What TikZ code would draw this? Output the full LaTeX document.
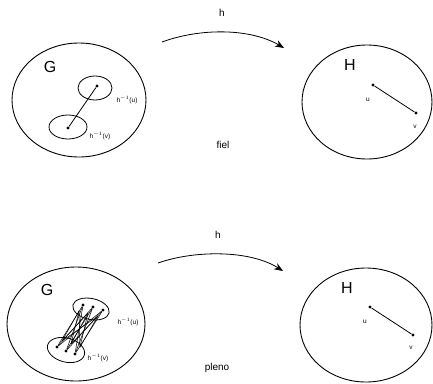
\documentclass[tikz,border=0pt]{standalone}
\usepackage{fontspec}
\setmainfont{Liberation Sans}
\usetikzlibrary{shapes.geometric,arrows.meta}
\begin{document}
\begin{tikzpicture}[x=1pt,y=-1pt,
  big/.style={draw,line width=0.9pt,ellipse,inner sep=0pt},
  small/.style={draw,line width=0.8pt,ellipse,inner sep=0pt},
  pt/.style={circle,fill=black,inner sep=0pt,minimum size=3.4pt},
  edge/.style={line width=0.8pt},
  bund/.style={line width=0.5pt},
  maparrow/.style={line width=0.8pt,-{Stealth[length=9pt,width=7pt]}},
  biglab/.style={font=\fontsize{16}{16}\selectfont},
  lab/.style={font=\fontsize{10}{10}\selectfont},
  tiny/.style={font=\fontsize{6.5}{6.5}\selectfont}]
\useasboundingbox (0,0) rectangle (433,383);

% ---------- top: fiel ----------
\node[big,minimum width=134pt,minimum height=114pt] (G1) at (79,100) {};
\node[biglab] (G1l) at (50,67) {G};
\node[small,minimum width=34pt,minimum height=24pt] (Su1) at (95,88) {};
\node[small,minimum width=38pt,minimum height=24pt] (Sv1) at (68,127) {};
\node[pt] (gu1) at (97,86) {};
\node[pt] (gv1) at (68,128) {};
\draw[edge] (gu1) -- (gv1);
\node[tiny] (hu1) at (127,100) {h$^{-1}$(u)};
\node[tiny] (hv1) at (100,136) {h$^{-1}$(v)};

\coordinate (a1s) at (162,42);
\coordinate (a1e) at (284,48);
\draw[maparrow] (a1s) .. controls (200,28) and (250,28) .. (a1e);
\node[lab] (h1) at (222,13) {h};

\node[big,minimum width=130pt,minimum height=114pt] (H1) at (367,102) {};
\node[biglab] (H1l) at (350,65) {H};
\node[pt] (u1) at (373,85) {};
\node[pt] (v1) at (416,113) {};
\draw[edge] (u1) -- (v1);
\node[tiny] (u1l) at (368,100) {u};
\node[tiny] (v1l) at (415,127) {v};
\node[lab] (fiel) at (223,145) {fiel};

% ---------- bottom: pleno ----------
\node[big,minimum width=138pt,minimum height=114pt] (G2) at (76,324) {};
\node[biglab] (G2l) at (47,290) {G};
\node[small,minimum width=37pt,minimum height=21pt,rotate=-12] (Su2) at (91,309) {};
\node[small,minimum width=38pt,minimum height=24pt,rotate=-15] (Sv2) at (66,350) {};
\node[pt] (a) at (83,305) {};
\node[pt] (b) at (93,307) {};
\node[pt] (c) at (103,310) {};
\node[pt] (d) at (57,347) {};
\node[pt] (e) at (66,351) {};
\node[pt] (f) at (75,354) {};
\coordinate (a2) at (79,311);
\coordinate (b2) at (88,313);
\coordinate (c2) at (98,316);
\coordinate (d2) at (62,341);
\coordinate (e2) at (71,344);
\coordinate (f2) at (80,347);
\foreach \p in {a,b,c} \foreach \q in {d,e,f} \draw[bund] (\p) -- (\q);
\foreach \p in {a2,b2,c2} \foreach \q in {d2,e2,f2} \draw[bund] (\p) -- (\q);
\node[tiny] (hu2) at (128,322) {h$^{-1}$(u)};
\node[tiny] (hv2) at (98,358) {h$^{-1}$(v)};

\coordinate (a2s) at (158,263);
\coordinate (a2e) at (283,271);
\draw[maparrow] (a2s) .. controls (195,250) and (250,250) .. (a2e);
\node[lab] (h2) at (218,235) {h};

\node[big,minimum width=132pt,minimum height=114pt] (H2) at (366,325) {};
\node[biglab] (H2l) at (347,288) {H};
\node[pt] (u2) at (370,307) {};
\node[pt] (v2) at (413,335) {};
\draw[edge] (u2) -- (v2);
\node[tiny] (u2l) at (365,322) {u};
\node[tiny] (v2l) at (411,348) {v};
\node[lab] (pleno) at (217,368) {pleno};
\end{tikzpicture}
\end{document}
